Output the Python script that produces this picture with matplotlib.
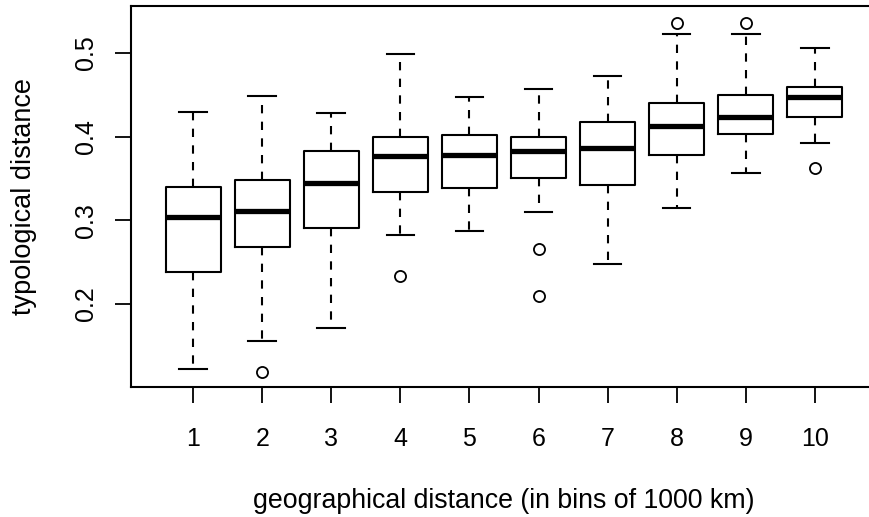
import matplotlib
matplotlib.use('Agg')
import matplotlib.pyplot as plt

plt.rcParams['font.family'] = ['Liberation Sans', 'DejaVu Sans']

# bins of geographical distance (1000 km each)
bins = [1, 2, 3, 4, 5, 6, 7, 8, 9, 10]

# box statistics
whisker_low = [0.123, 0.156, 0.172, 0.283, 0.287, 0.310, 0.248, 0.315, 0.356, 0.392]
q1 = [0.238, 0.268, 0.291, 0.334, 0.339, 0.351, 0.342, 0.378, 0.403, 0.424]
median = [0.304, 0.311, 0.345, 0.377, 0.378, 0.383, 0.387, 0.413, 0.424, 0.447]
q3 = [0.340, 0.348, 0.383, 0.400, 0.402, 0.400, 0.418, 0.440, 0.450, 0.459]
whisker_high = [0.430, 0.449, 0.428, 0.499, 0.447, 0.457, 0.472, 0.523, 0.523, 0.506]
outliers = [[], [0.119], [], [0.234], [], [0.266, 0.210], [], [0.536], [0.536], [0.363]]

stats = []
for i in range(len(bins)):
    stats.append({
        'whislo': whisker_low[i], 'q1': q1[i], 'med': median[i],
        'q3': q3[i], 'whishi': whisker_high[i], 'fliers': outliers[i],
        'label': str(bins[i]),
    })

fig = plt.figure(figsize=(8.7, 5.17), dpi=100)
# the right edge of the frame falls just outside the picture
ax = fig.add_axes([131 / 870, 1 - 387 / 517, (877 - 131) / 870, (387 - 6) / 517])

ax.bxp(stats, positions=bins, widths=0.8, capwidths=0.4,
       boxprops=dict(color='black', linewidth=1.5),
       medianprops=dict(color='black', linewidth=3.8, solid_capstyle='butt'),
       whiskerprops=dict(color='black', linewidth=1.5, linestyle=(0, (4, 4))),
       capprops=dict(color='black', linewidth=1.5),
       flierprops=dict(marker='o', markerfacecolor='none', markeredgecolor='black',
                       markersize=8, markeredgewidth=1.3))

ax.set_xlim(0.1, 10.9)
ax.set_ylim(0.101, 0.556)
ax.set_yticks([0.2, 0.3, 0.4, 0.5])
ax.set_yticklabels(['0.2', '0.3', '0.4', '0.5'], rotation=90, va='center')
ax.set_xticks(bins)
ax.set_xticklabels([str(b) for b in bins])

ax.tick_params(axis='both', labelsize=18, length=11.5, width=1.3, direction='out')
ax.tick_params(axis='x', pad=17)
ax.tick_params(axis='y', pad=12)
for sp in ax.spines.values():
    sp.set_linewidth(1.5)

ax.set_xlabel('geographical distance (in bins of 1000 km)', fontsize=19.3, labelpad=27)
ax.set_ylabel('typological distance', fontsize=19.5, labelpad=27)

fig.savefig('out.png', dpi=100)
